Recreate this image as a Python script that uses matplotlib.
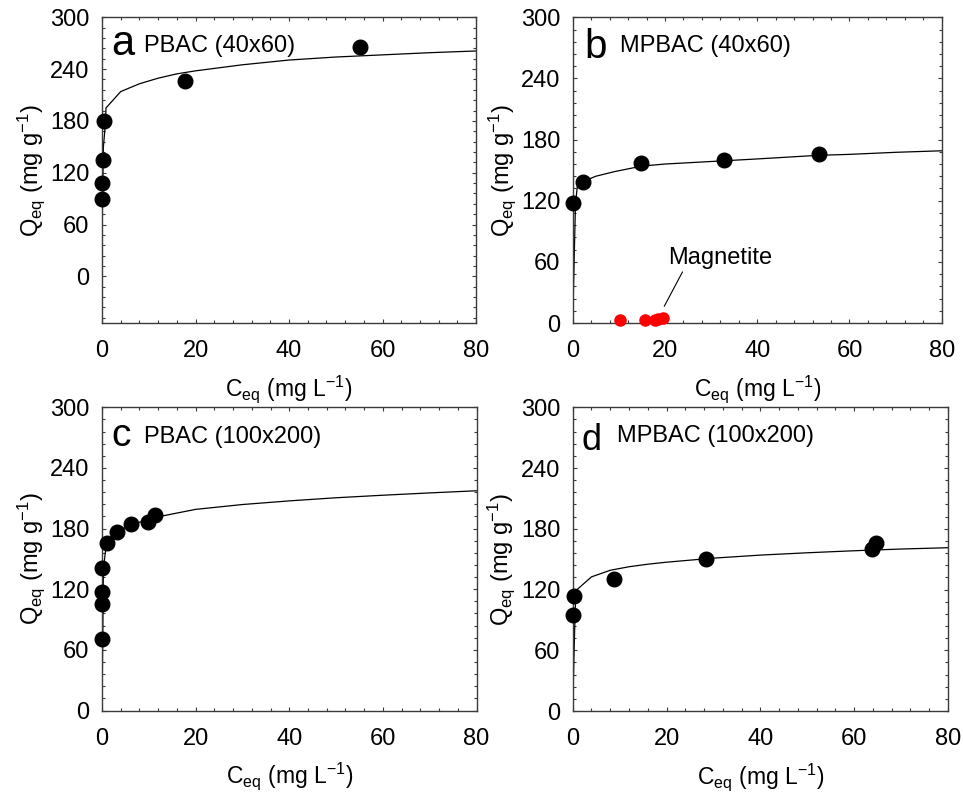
import matplotlib
matplotlib.use("Agg")
import matplotlib.pyplot as plt
from matplotlib.ticker import MultipleLocator

plt.rcParams['font.family'] = ['Liberation Sans', 'DejaVu Sans']
plt.rcParams['mathtext.fontset'] = 'custom'
plt.rcParams['mathtext.rm'] = 'Liberation Sans'
plt.rcParams['mathtext.it'] = 'Liberation Sans:italic'
plt.rcParams['mathtext.bf'] = 'Liberation Sans:bold'
plt.rcParams['mathtext.default'] = 'regular'

# ---- data ----
# Panel a: PBAC (40x60)
a_ceq = [0.05, 0.1, 0.2, 0.4, 17.7, 55.1]
a_qeq = [90, 108.5, 135, 180, 226.5, 266]
a_fit_c = [0, 0.1, 0.3, 0.75, 0.85, 4, 8, 12, 16, 20, 30, 40, 50, 60, 70, 80]
a_fit_q = [0, 88, 150, 178, 195, 214, 223, 229.5, 234.5, 238, 245, 250.5, 254, 256.5, 259, 261]

# Panel b: MPBAC (40x60)
b_ceq = [0.0, 2.3, 14.7, 32.9, 53.4]
b_qeq = [117.3, 138.5, 157.2, 160.1, 165.4]
b_fit_c = [0, 0.6, 1.0, 2.3, 5, 9, 15, 20, 30, 40, 53, 60, 70, 80]
b_fit_q = [0, 117, 134, 139, 144, 148.5, 154, 156, 158.5, 161, 164.5, 165.5, 167.5, 169]
mag_ceq = [10.3, 15.7, 17.9, 18.6, 19.5]
mag_qeq = [3.3, 2.7, 2.7, 4.0, 5.3]

# Panel c: PBAC (100x200)
c_ceq = [0.1, 0.1, 0.1, 0.1, 1.0, 3.3, 6.2, 9.8, 11.3]
c_qeq = [71, 105.7, 117.2, 141, 165.8, 176.7, 184.3, 186.6, 193.3]
c_fit_c = [0, 0.15, 0.3, 0.8, 1.0, 3.3, 6, 10, 13, 20, 30, 40, 50, 60, 70, 80]
c_fit_q = [0, 70, 140, 160, 166, 177, 183.5, 189, 192.6, 199, 203.8, 207.4, 210.5, 213, 215.3, 217.4]

# Panel d: MPBAC (100x200)
d_ceq = [0.0, 0.2, 8.9, 28.5, 63.9, 64.7]
d_qeq = [94.7, 113.5, 130.3, 150.4, 160, 165.5]
d_fit_c = [0, 0.25, 0.5, 0.7, 4, 8, 12, 16, 20, 30, 40, 50, 60, 70, 80]
d_fit_q = [0, 50, 95, 119, 132.5, 139, 142.5, 145, 147, 151, 154, 156.3, 158.3, 160, 161.3]

yticks = [0, 60, 120, 180, 240, 300]
xticks = [0, 20, 40, 60, 80]

W, H = 963, 794
fig = plt.figure(figsize=(W / 100, H / 100), dpi=100)


def px_axes(l, t, r, b):
    return fig.add_axes([l / W, 1 - b / H, (r - l) / W, (b - t) / H])


ax_a = px_axes(102, 17.3, 476, 323)
ax_b = px_axes(572.7, 17.3, 941.7, 323)
ax_c = px_axes(102, 407.3, 476.5, 710.5)
ax_d = px_axes(572.7, 407.3, 948, 711)

spine_col = '#3a3a3a'
panels = [
    (ax_a, a_ceq, a_qeq, a_fit_c, a_fit_q, -54, 'a', 30, (0.024, 0.877), 'PBAC (40x60)', (0.112, 0.8855)),
    (ax_b, b_ceq, b_qeq, b_fit_c, b_fit_q, 0, 'b', 29, (0.031, 0.866), 'MPBAC (40x60)', (0.128, 0.887)),
    (ax_c, c_ceq, c_qeq, c_fit_c, c_fit_q, 0, 'c', 28, (0.024, 0.873), 'PBAC (100x200)', (0.112, 0.883)),
    (ax_d, d_ceq, d_qeq, d_fit_c, d_fit_q, 0, 'd', 26, (0.024, 0.859), 'MPBAC (100x200)', (0.119, 0.885)),
]

for ax, cx, qy, fc, fq, ymin, letter, lsize, lpos, title, tpos in panels:
    ax.plot(fc, fq, color='black', lw=0.9, zorder=2)
    ax.plot(cx, qy, 'o', color='black', ms=10.5, zorder=3, clip_on=False)
    ax.set_xlim(0, 80)
    ax.set_ylim(ymin, 300)
    ax.set_xticks(xticks)
    ax.set_yticks(yticks)
    ax.xaxis.set_minor_locator(MultipleLocator(4))
    ax.yaxis.set_minor_locator(MultipleLocator(12))
    ax.tick_params(which='both', direction='in', top=True, right=True, color=spine_col, width=0.8)
    ax.tick_params(which='major', length=3.2)
    ax.tick_params(which='minor', length=2)
    ax.tick_params(axis='x', which='major', pad=12.5, labelsize=17)
    ax.tick_params(axis='y', which='major', pad=9, labelsize=17)
    for s in ax.spines.values():
        s.set_color(spine_col)
        s.set_linewidth(1.0)
    ax.set_xlabel(r'C$_{eq}$ (mg L$^{-1}$)', fontsize=16.5)
    ax.set_ylabel(r'Q$_{eq}$ (mg g$^{-1}$)', fontsize=17)
    ax.xaxis.set_label_coords(0.5, -0.165)
    ax.yaxis.set_label_coords(-0.148, 0.5)
    ax.text(lpos[0], lpos[1], letter, transform=ax.transAxes, fontsize=lsize,
            va='baseline', ha='left')
    ax.text(tpos[0], tpos[1], title, transform=ax.transAxes, fontsize=17,
            va='baseline', ha='left')

ax_b.plot(mag_ceq, mag_qeq, 'o', color='#ff0000', ms=8, zorder=3, clip_on=False)
ax_b.text(20.7, 58.3, 'Magnetite', fontsize=17, ha='left', va='baseline')
ax_b.annotate('', xy=(19.85, 16.4), xytext=(23.8, 50.1),
              arrowprops=dict(arrowstyle='-', color='black', lw=0.8,
                              shrinkA=0, shrinkB=0))

fig.savefig('out.png', dpi=100)
